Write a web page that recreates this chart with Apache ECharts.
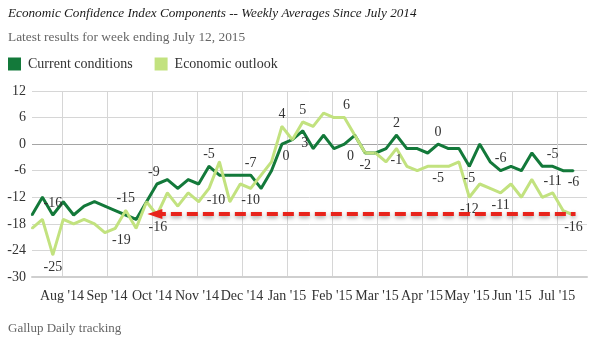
<!DOCTYPE html>
<html>
<head>
<meta charset="utf-8">
<script src="https://cdn.jsdelivr.net/npm/echarts@6/dist/echarts.min.js"></script>
<style>
  html, body { margin: 0; padding: 0; background: #ffffff; }
  #chart { width: 600px; height: 345px; }
</style>
</head>
<body>
<div id="chart"></div>
<script>
// Month tick labels along the bottom axis
const monthLabels = ["Aug '14", "Sep '14", "Oct '14", "Nov '14", "Dec '14", "Jan '15",
                     "Feb '15", "Mar '15", "Apr '15", "May '15", "Jun '15", "Jul '15"];

// Weekly index values, July 2014 through the week ending July 12, 2015
const currentConditions = [
  -16, -12, -16, -13, -16, -14, -13, -14, -15, -16,
  -17, -13, -9, -8, -10, -8, -9, -5, -7, -7,
  -7, -7, -10, -6, 0, 1, 3, -1, 2, -1,
  0, 2, -2, -2, -1, 2, -1, -1, -2, 0,
  -1, -1, -5, 0, -4, -6, -5, -6, -2, -5,
  -5, -6, -6
];
const economicOutlook = [
  -19, -17, -25, -17, -18, -17, -18, -20, -19, -15,
  -19, -13, -16, -11, -14, -11, -13, -10, -4, -13,
  -9, -10, -7, -4, 4, 1, 5, 4, 7, 6,
  6, 2, -2, -2, -4, -1, -5, -6, -5, -5,
  -5, -4, -12, -9, -10, -11, -9, -12, -8, -12,
  -11, -15, -16
];

// Level of the highlighted comparison arrow and the weeks it spans
const arrowLevel = -15.8;
const arrowFromWeek = 11.8;
const arrowToWeek = 52.2;

// Which weeks carry a value label, and where the label sits
const currentLabelPlacement = {
  2: ['top'], 12: ['top', [-3, 0]], 17: ['top'], 21: ['top'], 24: ['bottom', [4, 0]],
  26: ['bottom', [2, 0]], 30: ['bottom', [6, 0]], 35: ['top'], 39: ['top'],
  42: ['bottom'], 45: ['top'], 50: ['top'], 52: ['bottom']
};
const outlookLabelPlacement = {
  2: ['bottom'], 8: ['bottom', [6, 0]], 9: ['top'], 12: ['bottom', [1, 0]],
  17: ['bottom', [7, 0]], 21: ['bottom'], 24: ['top'], 26: ['top'], 30: ['top', [2, 0]],
  32: ['bottom'], 35: ['bottom'], 39: ['bottom'], 42: ['bottom'], 45: ['bottom'],
  50: ['top'], 52: ['bottom']
};

const FONT = "'Liberation Serif', 'DejaVu Serif', serif";
const DARK = '#13793a';
const LIGHT = '#c2e27f';
const GRID = '#d6d6d6';

function buildPoints(values, placement) {
  return values.map((v, i) => {
    const p = placement[i];
    if (!p) return [i, v];
    return {
      value: [i, v],
      label: { show: true, position: p[0], offset: p[1] || [0, 0] }
    };
  });
}

// Month grid runs in thirds of a month; a label sits on every third slot
const monthSlots = [];
for (let s = 0; s < monthLabels.length * 3 + 2; s++) {
  monthSlots.push((s - 2) % 3 === 0 ? monthLabels[(s - 2) / 3] : '');
}

// Horizontal grid: zero line drawn darker than the rest
const yTicks = [];
for (let v = -30; v <= 12; v += 6) yTicks.push(v);
const ySplitColors = yTicks.map(v => (v === 0 ? '#a5a5a5' : GRID));

const textBase = { fontFamily: FONT, color: '#333' };

const option = {
  animation: false,
  backgroundColor: '#ffffff',
  title: [
    {
      text: 'Economic Confidence Index Components -- Weekly Averages Since July 2014',
      left: 8, top: 7, padding: 0,
      textStyle: { fontFamily: FONT, fontStyle: 'italic', fontWeight: 'normal', fontSize: 13.2, color: '#1a1a1a' }
    },
    {
      text: 'Latest results for week ending July 12, 2015',
      left: 8, top: 31, padding: 0,
      textStyle: { fontFamily: FONT, fontWeight: 'normal', fontSize: 13.4, color: '#666' }
    },
    {
      text: 'Gallup Daily tracking',
      left: 8, top: 322, padding: 0,
      textStyle: { fontFamily: FONT, fontWeight: 'normal', fontSize: 13, color: '#666' }
    }
  ],
  legend: {
    left: 8, top: 57, padding: 0,
    icon: 'rect', itemWidth: 13, itemHeight: 13, itemGap: 22,
    textStyle: Object.assign({ fontSize: 14, padding: [0, 0, 0, 2] }, textBase),
    data: ['Current conditions', 'Economic outlook']
  },
  grid: { left: 32, right: 13, top: 91, bottom: 68, containLabel: false },
  xAxis: [
    {
      type: 'value', min: 0, max: 53.3, show: false
    },
    {
      type: 'category', data: monthSlots, boundaryGap: false, position: 'bottom',
      axisLine: { show: true, lineStyle: { color: '#cfcfcf', width: 2 } },
      axisTick: { show: false },
      axisLabel: Object.assign({ interval: 0, fontSize: 14, margin: 12 }, textBase),
      splitLine: { show: true, interval: (i) => i % 3 === 2, lineStyle: { color: GRID, width: 1 } }
    }
  ],
  yAxis: {
    type: 'value', min: -30, max: 12, interval: 6,
    axisLine: { show: false }, axisTick: { show: false },
    axisLabel: Object.assign({ fontSize: 14, margin: 6 }, textBase),
    splitLine: { show: true, lineStyle: { color: ySplitColors, width: 1 } }
  },
  series: [
    {
      name: 'Current conditions', type: 'line', xAxisIndex: 0,
      data: buildPoints(currentConditions, currentLabelPlacement),
      symbol: 'circle', symbolSize: 2, showSymbol: true, showAllSymbol: true,
      itemStyle: { color: DARK },
      lineStyle: { color: DARK, width: 3 },
      label: Object.assign({ show: false, fontSize: 14, distance: 4, formatter: p => String(p.value[1]) }, textBase),
      emphasis: { disabled: true }
    },
    {
      name: 'Economic outlook', type: 'line', xAxisIndex: 0,
      data: buildPoints(economicOutlook, outlookLabelPlacement),
      symbol: 'circle', symbolSize: 2, showSymbol: true, showAllSymbol: true,
      itemStyle: { color: LIGHT },
      lineStyle: { color: LIGHT, width: 3 },
      label: Object.assign({ show: false, fontSize: 14, distance: 4, formatter: p => String(p.value[1]) }, textBase),
      emphasis: { disabled: true },
      markLine: {
        silent: true,
        symbol: ['triangle', 'none'],
        symbolSize: [10, 15],
        label: { show: false },
        itemStyle: { color: '#e8231b' },
        lineStyle: {
          color: '#e8231b', width: 4, type: [11, 5],
          shadowColor: 'rgba(0,0,0,0.35)', shadowBlur: 4, shadowOffsetY: 2
        },
        data: [[{ coord: [arrowFromWeek, arrowLevel] }, { coord: [arrowToWeek, arrowLevel] }]]
      }
    }
  ]
};

const chart = echarts.init(document.getElementById('chart'), null, { renderer: 'canvas' });
chart.setOption(option);
</script>
</body>
</html>
